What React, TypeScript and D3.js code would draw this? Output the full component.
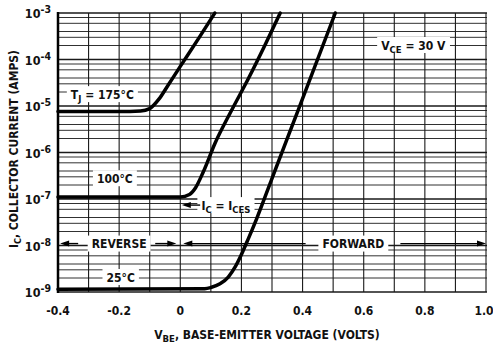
import React, { useEffect, useRef } from 'react';
import * as d3 from 'd3';

// Axis ticks
const xTicks = [-0.4, -0.2, 0, 0.2, 0.4, 0.6, 0.8, 1.0];
const xTickLabels = ['-0.4', '-0.2', '0', '0.2', '0.4', '0.6', '0.8', '1.0'];
const xGrid = [-0.4, -0.3, -0.2, -0.1, 0, 0.1, 0.2, 0.3, 0.4, 0.5, 0.6, 0.7, 0.8, 0.9, 1.0];
const yExponents = [-3, -4, -5, -6, -7, -8, -9];
const minorMultipliers = [2, 3, 4, 6, 8];

// Curves (VBE in volts, IC in amps)
const vbe175 = [-0.4, -0.2, -0.13, -0.1, -0.07, -0.04, 0, 0.06, 0.113];
const ic175 = [7.6e-6, 7.6e-6, 7.8e-6, 8.8e-6, 1.4e-5, 2.8e-5, 7.1e-5, 2.85e-4, 1e-3];

const vbe100 = [-0.4, 0, 0.03, 0.05, 0.075, 0.114, 0.167, 0.222, 0.278, 0.327];
const ic100 = [1.1e-7, 1.1e-7, 1.25e-7, 1.75e-7, 3.8e-7, 1.6e-6, 7.9e-6, 3.8e-5, 2.1e-4, 1e-3];

const vbe25 = [-0.4, 0.08, 0.1, 0.13, 0.157, 0.18, 0.2, 0.222, 0.25, 0.311, 0.386, 0.507];
const ic25 = [1.15e-9, 1.18e-9, 1.25e-9, 1.5e-9, 2.1e-9, 3.5e-9, 6.4e-9, 1.37e-8, 3.8e-8, 4.3e-7, 8.3e-6, 1e-3];

const FONT = "'Liberation Sans Narrow', 'DejaVu Sans Condensed', 'Arial Narrow', sans-serif";

const App = () => {
  const ref = useRef<SVGSVGElement>(null);

  useEffect(() => {
    document.body.style.margin = '0';
    const svg = d3.select(ref.current);
    svg.selectAll('*').remove();

    const x = d3.scaleLinear().domain([-0.4, 1.0]).range([58, 486]);
    const y = d3.scaleLog().domain([1e-9, 1e-3]).range([292, 13]);

    // horizontal grid values: decades + minor lines
    const majorY = yExponents.map(e => Math.pow(10, e));
    const minorY: number[] = [];
    yExponents.forEach(e => {
      if (e < -3) minorMultipliers.forEach(m => minorY.push(m * Math.pow(10, e)));
    });

    const grid = svg.append('g').attr('fill', 'none').attr('stroke', '#1a1a1a');

    grid.selectAll('.hmajor')
      .data(majorY)
      .enter()
      .append('path')
      .attr('class', 'hmajor')
      .attr('d', d => `M${x(-0.4)},${y(d)}H${x(1.0) + 1}`)
      .attr('stroke-width', 1.3);

    grid.selectAll('.hminor')
      .data(minorY)
      .enter()
      .append('path')
      .attr('class', 'hminor')
      .attr('d', d => `M${x(-0.4)},${y(d)}H${x(1.0) + 1}`)
      .attr('stroke-width', 0.9);

    grid.selectAll('.vgrid')
      .data(xGrid)
      .enter()
      .append('path')
      .attr('class', 'vgrid')
      .attr('d', d => `M${x(d)},${y(1e-3)}V${y(1e-9)}`)
      .attr('stroke-width', 1.1);

    // left border
    svg.append('path')
      .attr('d', `M${x(-0.4)},${y(1e-3) - 1}V${y(1e-9) + 1}`)
      .attr('stroke', '#000').attr('stroke-width', 2.5);

    // y tick labels 10^n
    yExponents.forEach(e => {
      const t = svg.append('text')
        .attr('x', 51)
        .attr('y', y(Math.pow(10, e)) + 5)
        .attr('text-anchor', 'end')
        .attr('font-family', FONT)
        .attr('font-weight', 'bold')
        .attr('font-size', 12.5)
        .attr('fill', '#111');
      t.append('tspan').text('10');
      t.append('tspan').attr('dy', -5).attr('font-size', 10.5).text(String(e));
    });

    // x tick labels
    xTicks.forEach((v, i) => {
      svg.append('text')
        .attr('x', i === xTicks.length - 1 ? x(v) - 2 : x(v))
        .attr('y', 315)
        .attr('text-anchor', 'middle')
        .attr('font-family', FONT)
        .attr('font-weight', 'bold')
        .attr('font-size', 12)
        .attr('fill', '#111')
        .text(xTickLabels[i]);
    });

    // x axis title
    const xt = svg.append('text')
      .attr('x', 267)
      .attr('y', 339)
      .attr('text-anchor', 'middle')
      .attr('font-family', FONT)
      .attr('font-weight', 'bold')
      .attr('font-size', 12)
      .attr('fill', '#111');
    xt.append('tspan').text('V');
    xt.append('tspan').attr('font-size', 9.5).attr('dy', 3).text('BE');
    xt.append('tspan').attr('dy', -3).text(', BASE-EMITTER VOLTAGE (VOLTS)');

    // y axis title
    const yt = svg.append('text')
      .attr('transform', 'translate(18,149) rotate(-90)')
      .attr('text-anchor', 'middle')
      .attr('font-family', FONT)
      .attr('font-weight', 'bold')
      .attr('font-size', 12)
      .attr('fill', '#111');
    yt.append('tspan').text('I');
    yt.append('tspan').attr('font-size', 9).attr('dy', 3).text('C');
    yt.append('tspan').attr('dy', -3).text(', COLLECTOR CURRENT (AMPS)');

    // annotations with white backgrounds
    const label = (cx: number, cy: number, parts: { t: string; sub?: boolean }[], anchor = 'middle') => {
      const g = svg.append('g');
      const t = g.append('text')
        .attr('x', cx)
        .attr('y', cy + 4.5)
        .attr('text-anchor', anchor)
        .attr('font-family', FONT)
        .attr('font-weight', 'bold')
        .attr('font-size', 12)
        .attr('fill', '#111');
      let shifted = false;
      parts.forEach(p => {
        const s = t.append('tspan').text(p.t);
        if (p.sub) {
          s.attr('font-size', 9.5);
          if (!shifted) { s.attr('dy', 3); shifted = true; }
        } else if (shifted) {
          s.attr('dy', -3);
          shifted = false;
        }
      });
      const bb = (t.node() as SVGTextElement).getBBox();
      g.insert('rect', 'text')
        .attr('x', bb.x - 4).attr('y', cy - 8)
        .attr('width', bb.width + 8).attr('height', 16)
        .attr('fill', '#fff');
    };

    label(x(-0.255), y(1.8e-5), [{ t: 'T' }, { t: 'J', sub: true }, { t: ' = 175°C' }]);
    label(x(-0.214), y(2.8e-7), [{ t: '100°C' }]);
    label(x(-0.195), y(2.1e-9), [{ t: '25°C' }]);
    label(x(0.762), y(2.05e-4), [{ t: 'V' }, { t: 'CE', sub: true }, { t: ' = 30 V' }]);
    label(x(-0.2), y(1.1e-8), [{ t: 'REVERSE' }]);
    label(x(0.566), y(1.1e-8), [{ t: 'FORWARD' }]);

    // curves
    const line = d3.line<[number, number]>()
      .x(d => x(d[0]))
      .y(d => y(d[1]))
      .curve(d3.curveMonotoneX);

    const series = [
      d3.zip(vbe175, ic175),
      d3.zip(vbe100, ic100),
      d3.zip(vbe25, ic25)
    ] as [number, number][][];

    svg.append('g').selectAll('path')
      .data(series)
      .enter()
      .append('path')
      .attr('d', d => line(d) as string)
      .attr('fill', 'none')
      .attr('stroke', '#000')
      .attr('stroke-width', 3.5)
      .attr('stroke-linejoin', 'round')
      .attr('stroke-linecap', 'round');

    label(x(0.069), y(7.4e-8), [{ t: 'I' }, { t: 'C', sub: true }, { t: ' = I' }, { t: 'CES', sub: true }], 'start');

    // arrows
    const arrow = (v1: number, v2: number, i: number) => {
      const yy = y(i);
      const x1 = x(v1), x2 = x(v2);
      const dir = Math.sign(x2 - x1);
      svg.append('path')
        .attr('d', `M${x1},${yy}H${x2 - dir * 6}`)
        .attr('stroke', '#000').attr('stroke-width', 1.4);
      svg.append('path')
        .attr('d', `M${x2},${yy}L${x2 - dir * 9},${yy - 3}L${x2 - dir * 9},${yy + 3}Z`)
        .attr('fill', '#000');
    };
    arrow(-0.334, -0.393, 1.1e-8);
    arrow(-0.082, -0.013, 1.1e-8);
    arrow(0.41, 0.01, 1.1e-8);
    arrow(0.72, 1.0, 1.1e-8);
    arrow(0.065, 0.005, 7.4e-8);
  }, []);

  return (
    <svg ref={ref} width={493} height={343} style={{ display: 'block', background: '#fff' }} />
  );
};

export default App;
